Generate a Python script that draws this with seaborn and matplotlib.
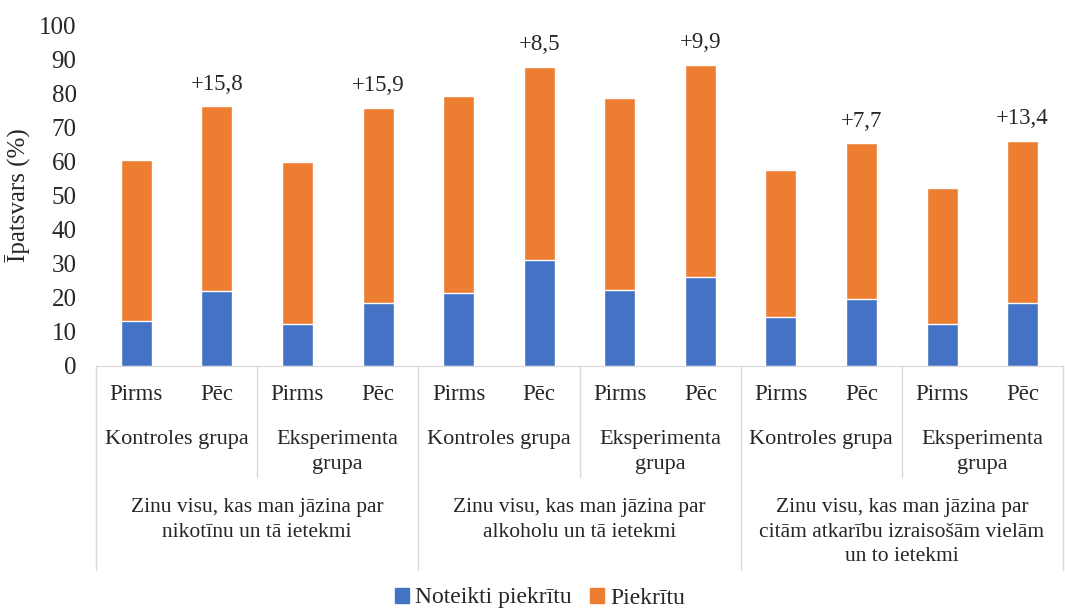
import numpy as np
import pandas as pd
import matplotlib
matplotlib.use("Agg")
import matplotlib.pyplot as plt
import seaborn as sns
from matplotlib.patches import Patch

# ── data ───────────────────────────────────────────────────────────────────
periods = ["Pirms", "Pēc"] * 6
groups = ["Kontroles grupa", "Eksperimenta\ngrupa"] * 3
topics = [
    "Zinu visu, kas man jāzina par\nnikotīnu un tā ietekmi",
    "Zinu visu, kas man jāzina par\nalkoholu un tā ietekmi",
    "Zinu visu, kas man jāzina par\ncitām atkarību izraisošām vielām\nun to ietekmi",
]
noteikti = [13.2, 21.9, 12.3, 18.4, 21.3, 31.1, 22.4, 26.0, 14.5, 19.6, 12.3, 18.4]
piekritu = [47.1, 54.2, 47.4, 57.4, 57.9, 56.7, 56.2, 62.4, 42.9, 45.9, 40.0, 47.7]
change_labels = ["", "+15,8", "", "+15,9", "", "+8,5", "", "+9,9", "", "+7,7", "", "+13,4"]

BLUE = "#4472C4"
ORANGE = "#ED7D31"
GREY = "#D9D9D9"

df = pd.DataFrame({
    "pos": np.arange(len(periods)),
    "noteikti": noteikti,
    "piekritu": piekritu,
})
df["total"] = df["noteikti"] + df["piekritu"]

sns.set_style("white")
plt.rcParams["font.family"] = ["Liberation Serif", "DejaVu Serif"]

W, H = 1065, 609
fig = plt.figure(figsize=(W / 100, H / 100), dpi=100)
ax = fig.add_axes([96 / W, 1 - 366 / H, (1063 - 96) / W, (366 - 25) / H])

# stacked bars: total in orange, blue drawn over the bottom part
sns.barplot(data=df, x="pos", y="total", color=ORANGE, width=0.385,
            saturation=1, ax=ax, native_scale=True)
sns.barplot(data=df, x="pos", y="noteikti", color=BLUE, width=0.385,
            saturation=1, ax=ax, native_scale=True)

ax.set_xlim(-0.5, len(periods) - 0.5)
ax.set_ylim(0, 100)
ax.set_yticks(np.arange(0, 101, 10))
ax.tick_params(axis="y", length=0, pad=14, labelsize=18)
ax.set_xticks([])
ax.set_xlabel("")
ax.set_ylabel("Īpatsvars (%)", fontsize=18, labelpad=6)
for s in ["top", "right", "left"]:
    ax.spines[s].set_visible(False)
ax.spines["bottom"].set_color(GREY)

# change labels above "Pēc" bars
for i, lab in enumerate(change_labels):
    if lab:
        ax.annotate(lab, (i, df["total"][i]), xytext=(0, 8),
                    textcoords="offset points", ha="center", va="bottom",
                    fontsize=16.5)

# multi-level category axis
axh = 366 - 25
def yfrac(px):
    return -(px - 366) / axh

tr = ax.get_xaxis_transform()
for i, p in enumerate(periods):
    ax.text(i, yfrac(394), p, transform=tr, ha="center", va="center", fontsize=16.5)
for j, g in enumerate(groups):
    ax.text(2 * j + 0.5, yfrac(430), g, transform=tr, ha="center", va="top",
            fontsize=16, linespacing=1.42)
for k, t in enumerate(topics):
    ax.text(4 * k + 1.5, yfrac(498), t, transform=tr, ha="center", va="top",
            fontsize=15.5, linespacing=1.4)

for xb in [1.5, 5.5, 9.5]:
    ax.plot([xb, xb], [0, yfrac(477)], transform=tr, color=GREY, lw=1, clip_on=False)
for xb in [-0.5, 3.5, 7.5, 11.5]:
    ax.plot([xb, xb], [0, yfrac(570)], transform=tr, color=GREY, lw=1, clip_on=False)

handles = [Patch(color=BLUE, label="Noteikti piekrītu"),
           Patch(color=ORANGE, label="Piekrītu")]
fig.legend(handles=handles, loc="center", bbox_to_anchor=(0.507, 1 - 598 / H),
           ncol=2, frameon=False, fontsize=17, handlelength=0.6, handleheight=0.6,
           handletextpad=0.25, columnspacing=0.8, borderaxespad=0)

fig.savefig("out.png", dpi=100)
